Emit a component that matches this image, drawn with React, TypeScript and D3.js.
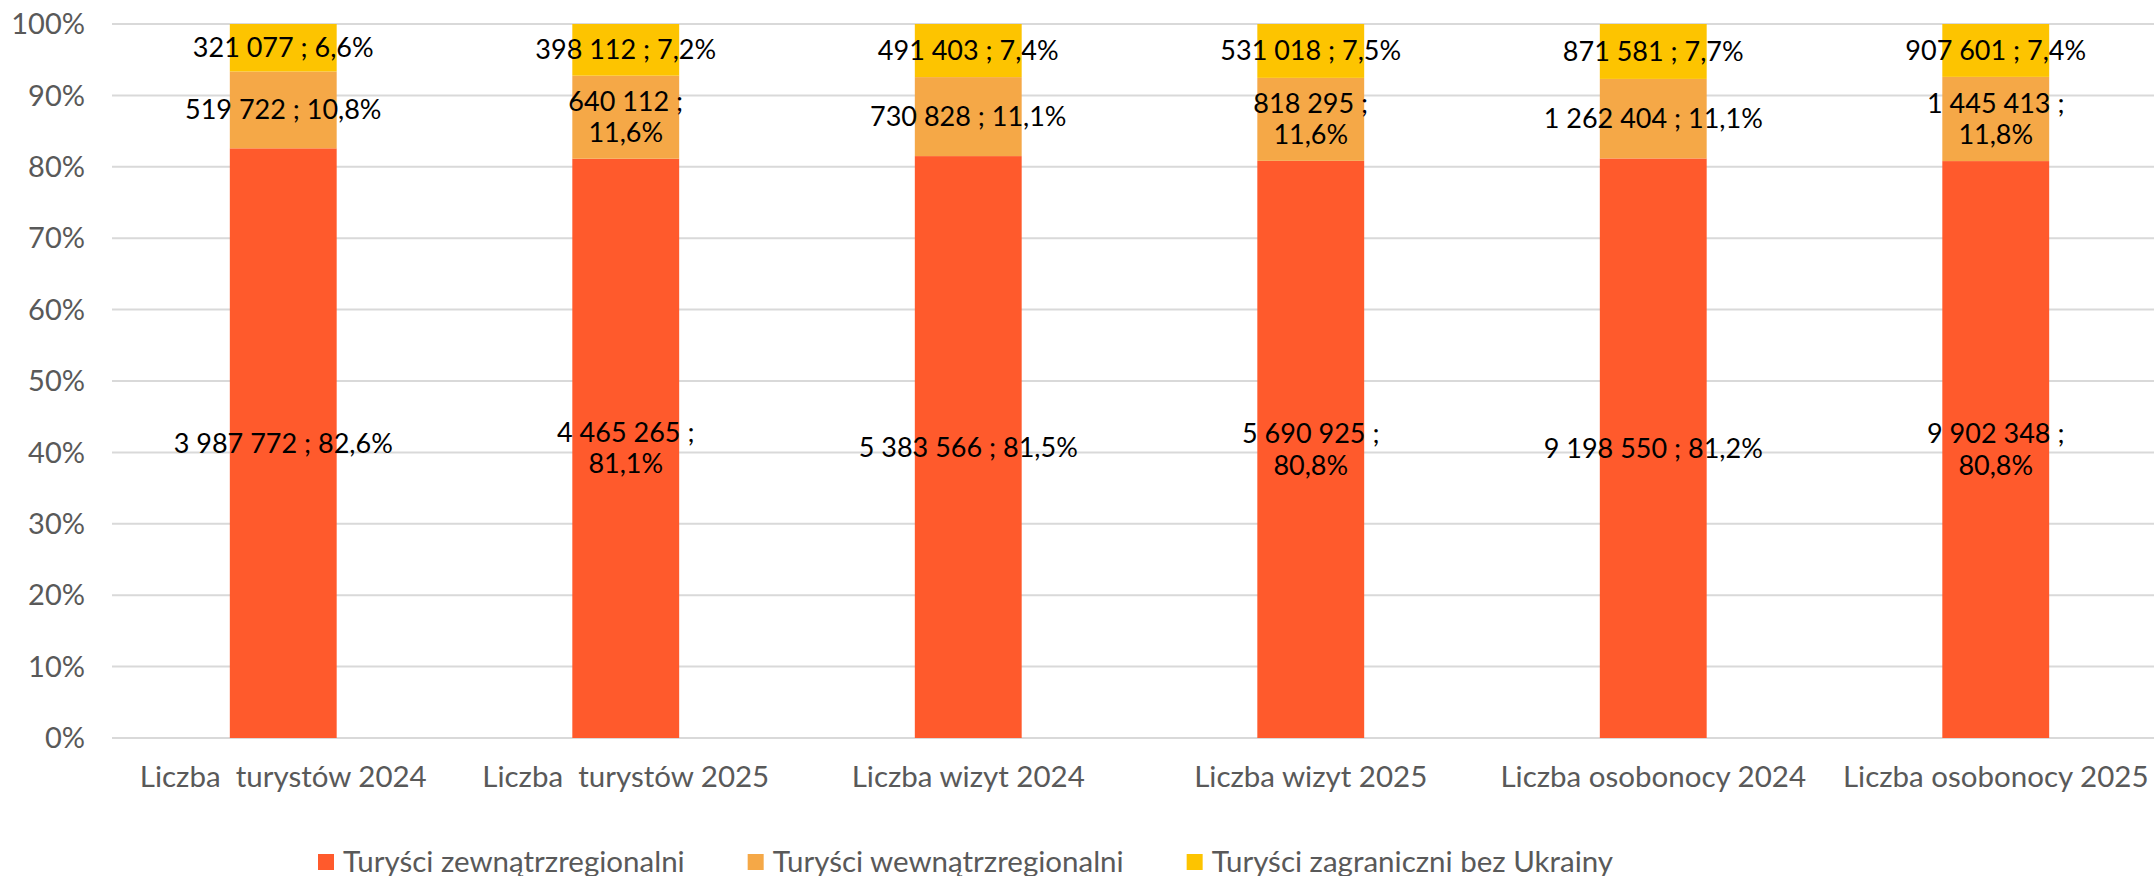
import React, { useEffect, useRef } from 'react';
import * as d3 from 'd3';

const categories = [
  'Liczba  turystów 2024',
  'Liczba  turystów 2025',
  'Liczba wizyt 2024',
  'Liczba wizyt 2025',
  'Liczba osobonocy 2024',
  'Liczba osobonocy 2025',
];
const seriesNames = [
  'Turyści zewnątrzregionalni',
  'Turyści wewnątrzregionalni',
  'Turyści zagraniczni bez Ukrainy',
];
const zewnatrz = [3987772, 4465265, 5383566, 5690925, 9198550, 9902348];
const wewnatrz = [519722, 640112, 730828, 818295, 1262404, 1445413];
const zagraniczni = [321077, 398112, 491403, 531018, 871581, 907601];
// which labels Excel broke into two lines
const wrapped = [
  [false, true, false, true, false, true],
  [false, true, false, true, false, true],
  [false, false, false, false, false, false],
];
const colors = ['#FF5A2C', '#F5A847', '#FDC400'];
const yTicks = [0, 0.1, 0.2, 0.3, 0.4, 0.5, 0.6, 0.7, 0.8, 0.9, 1];

const fmtNum = (v: number) => String(v).replace(/\B(?=(\d{3})+(?!\d))/g, ' ');
const fmtPct = (p: number) => (p * 100).toFixed(1).replace('.', ',') + '%';

const App = () => {
  const ref = useRef<SVGSVGElement>(null);

  useEffect(() => {
    const svg = d3.select(ref.current);
    svg.selectAll('*').remove();
    const font = 'Lato, "Open Sans", sans-serif';

    const x = d3.scaleBand().domain(categories).range([112, 2167]).paddingInner(0.688).paddingOuter(0.344);
    const y = d3.scaleLinear().domain([0, 1]).range([738, 24]);

    svg.append('g')
      .selectAll('line')
      .data(yTicks)
      .enter()
      .append('line')
      .attr('x1', 112)
      .attr('x2', 2154)
      .attr('y1', d => y(d))
      .attr('y2', d => y(d))
      .attr('stroke', '#d9d9d9')
      .attr('stroke-width', 2);

    svg.append('g')
      .selectAll('text')
      .data(yTicks)
      .enter()
      .append('text')
      .attr('x', 85)
      .attr('y', d => y(d))
      .attr('dy', '0.35em')
      .attr('text-anchor', 'end')
      .attr('font-family', font)
      .attr('font-size', 29)
      .attr('fill', '#595959')
      .text(d => Math.round(d * 100) + '%');

    const rows = categories.map((c, i) => ({
      cat: c,
      s0: zewnatrz[i],
      s1: wewnatrz[i],
      s2: zagraniczni[i],
    }));
    const stack = d3.stack<any>().keys(['s0', 's1', 's2']).offset(d3.stackOffsetExpand);
    const layers = stack(rows);
    const raw = [zewnatrz, wewnatrz, zagraniczni];

    layers.forEach((layer, si) => {
      svg.append('g')
        .selectAll('rect')
        .data(layer)
        .enter()
        .append('rect')
        .attr('x', d => x(d.data.cat)!)
        .attr('width', x.bandwidth())
        .attr('y', d => y(d[1]))
        .attr('height', d => y(d[0]) - y(d[1]))
        .attr('fill', colors[si]);
    });

    layers.forEach((layer, si) => {
      layer.forEach((d, ci) => {
        const cx = x(d.data.cat)! + x.bandwidth() / 2;
        const cy = y((d[0] + d[1]) / 2);
        const num = fmtNum(raw[si][ci]) + ' ;';
        const pct = fmtPct(d[1] - d[0]);
        const t = svg.append('text')
          .attr('x', cx)
          .attr('y', cy)
          .attr('text-anchor', 'middle')
          .attr('font-family', font)
          .attr('font-size', 27)
          .attr('fill', '#000');
        if (wrapped[si][ci]) {
          t.append('tspan').attr('x', cx).attr('dy', '-0.24em').text(num);
          t.append('tspan').attr('x', cx).attr('dy', '1.17em').text(pct);
        } else {
          t.attr('dy', '0.35em').text(num + ' ' + pct);
        }
      });
    });

    svg.append('g')
      .selectAll('text')
      .data(categories)
      .enter()
      .append('text')
      .attr('x', d => x(d)! + x.bandwidth() / 2)
      .attr('y', 787)
      .attr('text-anchor', 'middle')
      .attr('font-family', font)
      .attr('font-size', 29.5)
      .attr('fill', '#595959')
      .style('white-space', 'pre')
      .text(d => d);

    let lx = 318;
    seriesNames.forEach((name, i) => {
      svg.append('rect')
        .attr('x', lx)
        .attr('y', 854)
        .attr('width', 16)
        .attr('height', 16)
        .attr('fill', colors[i]);
      const t = svg.append('text')
        .attr('x', lx + 25)
        .attr('y', 872)
        .attr('font-family', font)
        .attr('font-size', 29.5)
        .attr('fill', '#595959')
        .text(name);
      const w = (t.node() as SVGTextElement).getComputedTextLength();
      lx += 25 + w + 63;
    });
  }, []);

  return (
    <svg
      ref={ref}
      width={2154}
      height={876}
      style={{ position: 'absolute', left: 0, top: 0, background: '#fff' }}
    />
  );
};

export default App;
